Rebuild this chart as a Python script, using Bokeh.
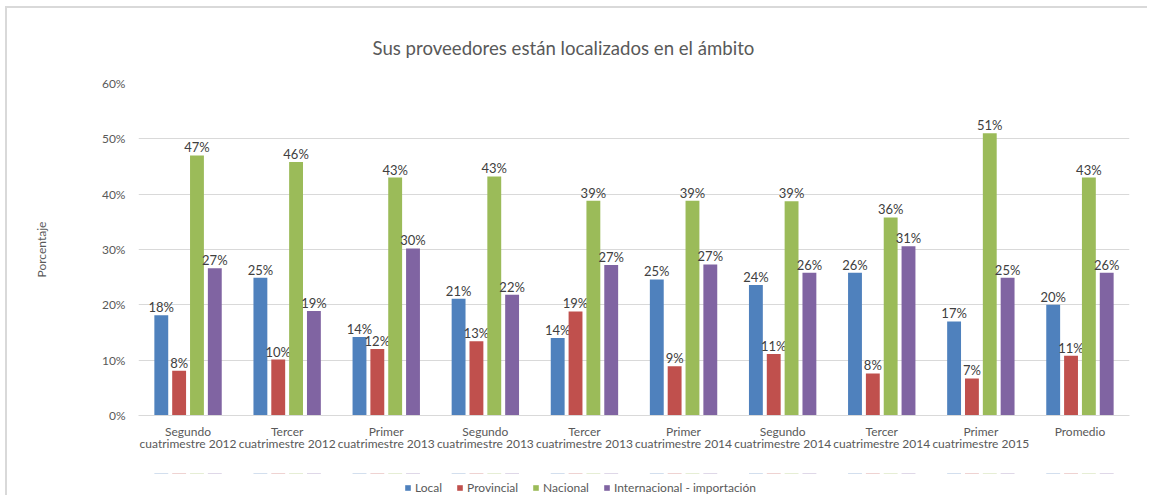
from bokeh.plotting import figure
from bokeh.layouts import column
from bokeh.models import (ColumnDataSource, FixedTicker, PrintfTickFormatter, Legend,
                          LegendItem, Range1d, FactorRange)
from bokeh.transform import dodge
from bokeh.core.properties import value
from bokeh.embed import file_html
from bokeh.resources import INLINE

categories = ["Segundo\ncuatrimestre 2012", "Tercer\ncuatrimestre 2012", "Primer\ncuatrimestre 2013",
              "Segundo\ncuatrimestre 2013", "Tercer\ncuatrimestre 2013", "Primer\ncuatrimestre 2014",
              "Segundo\ncuatrimestre 2014", "Tercer\ncuatrimestre 2014", "Primer\ncuatrimestre 2015",
              "Promedio"]
local = [18.1, 24.9, 14.2, 21.1, 14.0, 24.6, 23.6, 25.8, 17.0, 20.0]
provincial = [8.1, 10.1, 12.0, 13.4, 18.8, 8.9, 11.1, 7.6, 6.7, 10.8]
nacional = [47.0, 45.8, 43.0, 43.2, 38.8, 38.8, 38.7, 35.8, 51.0, 43.0]
internacional = [26.6, 18.9, 30.2, 21.8, 27.2, 27.3, 25.8, 30.6, 24.9, 25.8]
series_names = ["Local", "Provincial", "Nacional", "Internacional - importación"]
y_ticks = [0, 10, 20, 30, 40, 50, 60]

colors = ["#4F81BD", "#C0504D", "#9BBB59", "#8064A2"]
offsets = [-0.27, -0.09, 0.09, 0.27]
FONT = "Lato"

p = figure(x_range=FactorRange(*categories), y_range=Range1d(0, 60),
           frame_width=989, frame_height=330, output_backend="svg", toolbar_location=None,
           min_border_left=131, min_border_right=20, min_border_top=75, min_border_bottom=60)
p.styles = {"margin-left": "5px", "margin-top": "6px",
            "border-left": "2px solid #D9D9D9", "border-top": "2px solid #D9D9D9"}
p.outline_line_color = None

data = dict(cat=categories)
keys = ["local", "provincial", "nacional", "internacional"]
for k, vals in zip(keys, [local, provincial, nacional, internacional]):
    data[k] = vals
    data[k + "_lbl"] = [f"{round(v):.0f}%" for v in vals]
src = ColumnDataSource(data)

for k, c, off in zip(keys, colors, offsets):
    p.vbar(x=dodge("cat", off, range=p.x_range), top=k, width=0.14, source=src,
           fill_color=c, line_color=None)
    p.text(x=dodge("cat", off, range=p.x_range), y=k, text=k + "_lbl", source=src,
           text_align="center", text_baseline="alphabetic", y_offset=-8,
           text_font=value(FONT), text_font_size="13px", text_color="#404040")

# axes
p.yaxis.ticker = FixedTicker(ticks=y_ticks)
p.yaxis.formatter = PrintfTickFormatter(format="%d%%")
p.yaxis.axis_line_color = None
p.yaxis.major_tick_line_color = None
p.yaxis.minor_tick_line_color = None
p.yaxis.major_label_standoff = 7
p.yaxis.major_label_text_font = FONT
p.yaxis.major_label_text_font_size = "12px"
p.yaxis.major_label_text_color = "#595959"
p.yaxis.axis_label = "Porcentaje"
p.yaxis.axis_label_standoff = 50
p.yaxis.axis_label_text_font = FONT
p.yaxis.axis_label_text_font_size = "12px"
p.yaxis.axis_label_text_font_style = "normal"
p.yaxis.axis_label_text_color = "#595959"

p.xaxis.axis_line_color = "#D9D9D9"
p.xaxis.major_tick_line_color = None
p.xaxis.minor_tick_line_color = None
p.xaxis.major_label_standoff = 2
p.xaxis.major_label_text_font = FONT
p.xaxis.major_label_text_font_size = "12px"
p.xaxis.major_label_text_line_height = 0.85
p.xaxis.major_label_text_color = "#595959"

p.xgrid.grid_line_color = None
p.ygrid.grid_line_color = "#D9D9D9"

# title
p.title.text = "Sus proveedores están localizados en el ámbito"
p.title.align = "left"
p.title.offset = 234
p.title.standoff = 50
p.title.text_font = FONT
p.title.text_font_size = "18.6px"
p.title.text_font_style = "normal"
p.title.text_color = "#595959"

# legend strip (separate small figure below the chart; its series bars lie outside its view)
lg = figure(x_range=FactorRange(*categories), y_range=Range1d(-2, -1),
            x_axis_type=None, y_axis_type=None,
            frame_width=989, frame_height=22, output_backend="svg", toolbar_location=None,
            min_border_left=131, min_border_right=20, min_border_top=0, min_border_bottom=0)
lg.styles = {"margin-left": "5px", "border-left": "2px solid #D9D9D9"}
lg.outline_line_color = None
lg.grid.visible = False

items = []
for k, name, c, off in zip(keys, series_names, colors, offsets):
    r = lg.vbar(x=dodge("cat", off, range=lg.x_range), top=k, width=0.14, source=src,
                fill_color=c, line_color=None)
    items.append(LegendItem(label=name, renderers=[r]))

legend = Legend(items=items, orientation="horizontal", location=(266, 0),
                glyph_width=7, glyph_height=7, label_standoff=4, spacing=14,
                padding=4, margin=0, border_line_color=None, background_fill_alpha=0,
                label_text_font=FONT, label_text_font_size="12px", label_text_color="#595959",
                label_height=14)
lg.add_layout(legend, "center")

layout = column(p, lg, spacing=0)
open("out.html", "w").write(file_html(layout, INLINE))
